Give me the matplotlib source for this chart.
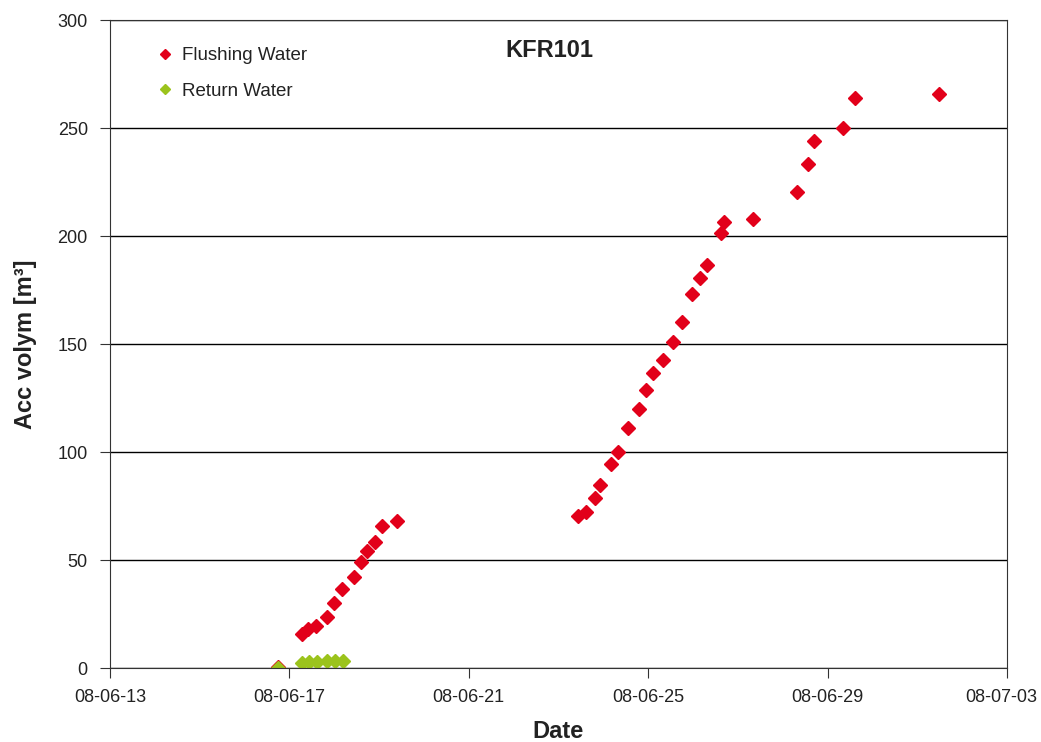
import matplotlib
matplotlib.use('Agg')
import matplotlib.pyplot as plt
import matplotlib.dates as mdates
from matplotlib.transforms import ScaledTranslation
import pandas as pd

plt.rcParams['font.family'] = ['Liberation Sans', 'DejaVu Sans']

flush_time = ['2008-06-16 18:00', '2008-06-17 06:30', '2008-06-17 10:00', '2008-06-17 14:10',
              '2008-06-17 20:00', '2008-06-17 23:45', '2008-06-18 04:20', '2008-06-18 10:20',
              '2008-06-18 14:10', '2008-06-18 17:30', '2008-06-18 21:50', '2008-06-19 01:25',
              '2008-06-19 09:50', '2008-06-23 10:35', '2008-06-23 14:55', '2008-06-23 19:25',
              '2008-06-23 22:05', '2008-06-24 03:50', '2008-06-24 07:40', '2008-06-24 13:25',
              '2008-06-24 19:10', '2008-06-24 23:00', '2008-06-25 02:50', '2008-06-25 07:40',
              '2008-06-25 13:10', '2008-06-25 18:00', '2008-06-25 23:30', '2008-06-26 03:35',
              '2008-06-26 07:25', '2008-06-26 14:55', '2008-06-26 16:35', '2008-06-27 08:10',
              '2008-06-28 07:40', '2008-06-28 13:25', '2008-06-28 17:00', '2008-06-29 08:25',
              '2008-06-29 14:55', '2008-07-01 11:30']
flush_vol = [0.5, 15.7, 17.9, 19.6, 23.6, 30.0, 36.7, 42.3, 49.0, 54.2, 58.3, 65.6, 68.0,
             70.5, 72.1, 78.6, 84.6, 94.3, 100.2, 111.0, 119.9, 128.8, 136.4, 142.7, 151.1,
             160.2, 173.3, 180.7, 186.6, 201.2, 206.5, 207.9, 220.2, 233.3, 244.1, 249.9,
             263.7, 265.6]

return_time = ['2008-06-16 18:00', '2008-06-17 06:30', '2008-06-17 10:30', '2008-06-17 14:40',
               '2008-06-17 20:00', '2008-06-18 00:15', '2008-06-18 04:50']
return_vol = [0.0, 2.5, 2.9, 3.0, 3.1, 3.1, 3.1]

tick_dates = ['2008-06-13', '2008-06-17', '2008-06-21', '2008-06-25', '2008-06-29', '2008-07-03']

fig = plt.figure(figsize=(10.41, 7.42), dpi=100)
ax = fig.add_axes([0.1057, 0.0997, 0.8616, 0.8733])

ax.plot(pd.to_datetime(flush_time), flush_vol, 'D', color='#e2001a', markersize=7,
        linestyle='none', label='Flushing Water')
ax.plot(pd.to_datetime(return_time), return_vol, 'D', color='#9bc31c', markersize=7,
        linestyle='none', label='Return Water')

ax.set_xlim(pd.Timestamp(tick_dates[0]), pd.Timestamp(tick_dates[-1]))
ax.set_ylim(0, 300)
ax.set_xticks(pd.to_datetime(tick_dates))
ax.xaxis.set_major_formatter(mdates.DateFormatter('%y-%m-%d'))
ax.set_yticks(range(0, 301, 50))
ax.yaxis.grid(True, color='black', linewidth=1)
ax.set_axisbelow(True)
for s in ax.spines.values():
    s.set_color('#333333')
ax.tick_params(axis='both', labelsize=13, direction='out', length=7, color='#333333',
               labelcolor='#222222')
ax.tick_params(axis='x', pad=8)
ax.tick_params(axis='y', pad=9)

# last date label pulled in a little so it stays inside the figure
fig.canvas.draw()
last = ax.get_xticklabels()[-1]
last.set_transform(last.get_transform() + ScaledTranslation(-0.06, 0, fig.dpi_scale_trans))

ax.set_xlabel('Date', fontsize=17, fontweight='bold', labelpad=10, color='#222222')
ax.set_ylabel('Acc volym [m³]', fontsize=17, fontweight='bold', labelpad=15, color='#222222')
ax.text(0.49, 0.953, 'KFR101', transform=ax.transAxes, ha='center', va='center',
        fontsize=17, fontweight='bold', color='#222222')

ax.legend(loc='upper left', bbox_to_anchor=(0.04, 0.97), frameon=False, fontsize=13.5,
          handletextpad=0.3, borderaxespad=0, handlelength=1.2, labelspacing=1.0,
          markerscale=0.8, labelcolor='#222222')

fig.savefig('out.png', dpi=100)
